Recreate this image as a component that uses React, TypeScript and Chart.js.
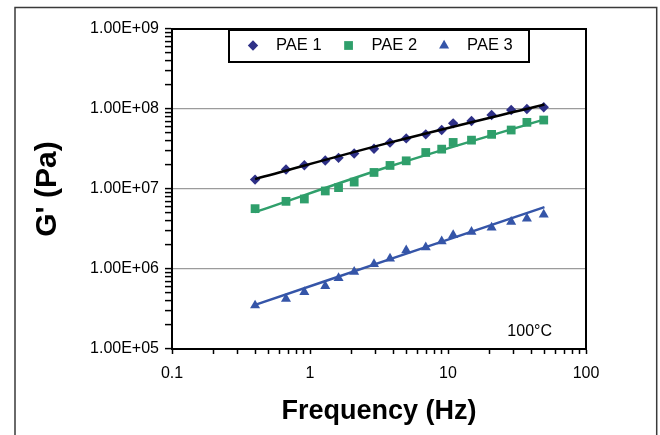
import React, { useEffect, useRef } from 'react';
import { Chart, registerables } from 'chart.js';
import { drawPoint } from 'chart.js/helpers';

Chart.register(...registerables);

const FONT = "'Liberation Sans', Arial, Helvetica, sans-serif";

// Measured frequencies (Hz)
const frequencies = [0.4, 0.67, 0.91, 1.29, 1.61, 2.09, 2.91, 3.8, 4.98, 6.9, 9.0, 10.9, 14.8, 20.7, 28.7, 37.3, 49.4];
// G' values (Pa)
const pae1 = [1.31e7, 1.75e7, 1.98e7, 2.27e7, 2.45e7, 2.78e7, 3.18e7, 3.8e7, 4.29e7, 4.82e7, 5.46e7, 6.62e7, 7.07e7, 8.41e7, 9.71e7, 1.0e8, 1.05e8];
const pae2 = [5.68e6, 7.01e6, 7.5e6, 9.45e6, 1.04e7, 1.22e7, 1.61e7, 1.97e7, 2.25e7, 2.86e7, 3.15e7, 3.82e7, 4.08e7, 4.82e7, 5.46e7, 6.81e7, 7.28e7];
const pae3 = [3.5e5, 4.24e5, 5.15e5, 6.1e5, 7.7e5, 9.2e5, 1.15e6, 1.35e6, 1.71e6, 1.87e6, 2.22e6, 2.65e6, 2.91e6, 3.3e6, 3.89e6, 4.27e6, 4.8e6];

// Fitted curves
const fitFrequencies = [0.4, 3.9, 50];
const fit1 = [1.33e7, 3.85e7, 1.14e8];
const fit2 = [5.13e6, 1.95e7, 7.42e7];
const fit3 = [3.56e5, 1.35e6, 5.93e6];

const seriesLabels = ['PAE 1', 'PAE 2', 'PAE 3'];

// Axis ticks
const xMajorTicks = [0.1, 1, 10, 100];
const xTickLabels = ['0.1', '1', '10', '100'];
const yMajorTicks = [1e5, 1e6, 1e7, 1e8, 1e9];
const yTickLabels = ['1.00E+05', '1.00E+06', '1.00E+07', '1.00E+08', '1.00E+09'];
const minorSteps = [2, 3, 4, 5, 6, 7, 8, 9];

const annotationText = '100°C';

function buildTicks(majors: number[], labels: string[]) {
  const ticks: any[] = [];
  majors.forEach((m, i) => {
    ticks.push({ value: m, major: true, label: labels[i] });
    if (i < majors.length - 1) {
      minorSteps.forEach((s) => ticks.push({ value: s * m, major: false, label: '' }));
    }
  });
  return ticks;
}

function pts(xs: number[], ys: number[]) {
  return xs.map((x, i) => ({ x, y: ys[i] }));
}

const frameBox = {
  id: 'frameBox',
  beforeDraw(chart: any) {
    const { ctx } = chart;
    ctx.save();
    ctx.strokeStyle = '#3a3a3a';
    ctx.lineWidth = 1.5;
    ctx.strokeRect(15, 7.5, 641.7, 480);
    ctx.restore();
  },
};

const plotExtras = {
  id: 'plotExtras',
  afterDraw(chart: any) {
    const { ctx, chartArea } = chart;
    ctx.save();
    // plot box
    ctx.strokeStyle = '#000';
    ctx.lineWidth = 2;
    ctx.strokeRect(chartArea.left, chartArea.top, chartArea.right - chartArea.left, chartArea.bottom - chartArea.top);

    // legend box
    const cx = (chartArea.left + chartArea.right) / 2;
    const boxLeft = cx - 150;
    const boxTop = chartArea.top + 1;
    const boxW = 300;
    const boxH = 32;
    ctx.fillStyle = '#fff';
    ctx.fillRect(boxLeft, boxTop, boxW, boxH);
    ctx.strokeStyle = '#000';
    ctx.lineWidth = 2;
    ctx.strokeRect(boxLeft, boxTop, boxW, boxH);

    const cy = boxTop + 15.5;
    let x = boxLeft + 24;
    ctx.font = `16.5px ${FONT}`;
    ctx.textBaseline = 'middle';
    ctx.textAlign = 'left';
    chart.data.datasets.forEach((ds: any) => {
      if (!ds.legendItem) return;
      ctx.fillStyle = ds.backgroundColor;
      ctx.strokeStyle = ds.borderColor;
      ctx.lineWidth = 0;
      drawPoint(ctx, { pointStyle: ds.pointStyle, radius: ds.pointRadius, rotation: 0, borderWidth: 0 }, x, cy);
      ctx.fillStyle = '#000';
      ctx.fillText(ds.label, x + 23, cy);
      const w = ctx.measureText(ds.label).width;
      x += 23 + w + 27;
    });

    // temperature annotation
    ctx.font = `16px ${FONT}`;
    ctx.textAlign = 'right';
    ctx.textBaseline = 'alphabetic';
    ctx.fillStyle = '#000';
    ctx.fillText(annotationText, chartArea.right - 34, chartArea.bottom - 13.5);
    ctx.restore();
  },
};

export default function App() {
  const ref = useRef<HTMLCanvasElement | null>(null);

  useEffect(() => {
    if (!ref.current) return;
    Chart.defaults.font.family = FONT;
    const lineBase = { showLine: true, pointRadius: 0, borderWidth: 2.5, tension: 0.35, fill: false };
    const chart = new Chart(ref.current, {
      type: 'scatter',
      data: {
        datasets: [
          { ...lineBase, label: 'fit1', data: pts(fitFrequencies, fit1), borderColor: '#000000' },
          { ...lineBase, label: 'fit2', data: pts(fitFrequencies, fit2), borderColor: '#2f9f6b' },
          { ...lineBase, label: 'fit3', data: pts(fitFrequencies, fit3), borderColor: '#3555a8' },
          {
            label: seriesLabels[0], legendItem: true, data: pts(frequencies, pae1), showLine: false,
            pointStyle: 'rectRot', pointRadius: 5.2, borderWidth: 0,
            backgroundColor: '#2e3087', borderColor: '#2e3087',
          } as any,
          {
            label: seriesLabels[1], legendItem: true, data: pts(frequencies, pae2), showLine: false,
            pointStyle: 'rect', pointRadius: 6.2, borderWidth: 0,
            backgroundColor: '#2f9f6b', borderColor: '#2f9f6b',
          } as any,
          {
            label: seriesLabels[2], legendItem: true, data: pts(frequencies, pae3), showLine: false,
            pointStyle: 'triangle', pointRadius: 5.8, borderWidth: 0,
            backgroundColor: '#3555a8', borderColor: '#3555a8',
          } as any,
        ],
      },
      options: {
        animation: false,
        responsive: false,
        devicePixelRatio: 1,
        layout: { padding: { left: 0, top: 29, right: 74, bottom: 0 } },
        plugins: {
          legend: { display: false },
          tooltip: { enabled: false },
        },
        scales: {
          x: {
            type: 'logarithmic',
            position: 'bottom',
            min: 0.1,
            max: 100,
            afterBuildTicks: (s: any) => { s.ticks = buildTicks(xMajorTicks, xTickLabels); },
            afterFit: (s: any) => { s.height = 86; },
            ticks: {
              autoSkip: false,
              maxRotation: 0,
              padding: 10,
              color: '#000',
              font: { size: 16, family: FONT },
              callback: (_v: any, i: number, t: any[]) => t[i].label,
            },
            grid: {
              drawOnChartArea: false,
              color: 'rgba(0,0,0,0)',
              tickColor: '#000',
              tickLength: 5,
              tickWidth: 1.5,
            },
            border: { color: '#000', width: 2 },
            title: {
              display: true,
              text: 'Frequency (Hz)',
              color: '#000',
              font: { size: 27, weight: 'bold', family: FONT },
              padding: { top: 0, bottom: 6.8 },
            },
          },
          y: {
            type: 'logarithmic',
            position: 'left',
            min: 1e5,
            max: 1e9,
            afterBuildTicks: (s: any) => { s.ticks = buildTicks(yMajorTicks, yTickLabels); },
            afterFit: (s: any) => { s.width = 172; },
            ticks: {
              autoSkip: false,
              padding: 6,
              color: '#000',
              font: { size: 16, family: FONT },
              callback: (_v: any, i: number, t: any[]) => t[i].label,
            },
            grid: {
              color: (c: any) => (c.tick && c.tick.major ? '#9b9b9b' : 'rgba(0,0,0,0)'),
              lineWidth: 1.2,
              tickColor: '#000',
              tickLength: 7,
              tickWidth: 1.5,
            },
            border: { color: '#000', width: 2 },
            title: {
              display: true,
              text: "G' (Pa)",
              color: '#000',
              font: { size: 30, weight: 'bold', family: FONT },
              padding: { top: 30, bottom: 0 },
            },
          },
        },
      } as any,
      plugins: [frameBox, plotExtras],
    });
    return () => chart.destroy();
  }, []);

  return (
    <div style={{ position: 'absolute', left: 0, top: 0, width: 660, height: 435, background: '#fff' }}>
      <canvas ref={ref} width={660} height={435} style={{ display: 'block' }} />
    </div>
  );
}
